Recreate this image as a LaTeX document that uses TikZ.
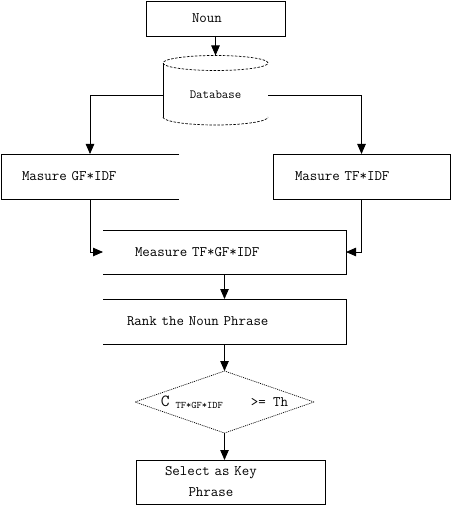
\documentclass[tikz,border=0pt]{standalone}
\usepackage{fontspec}
\usepackage{tikz}
\usetikzlibrary{arrows.meta,shapes.geometric}
\tikzset{
  flowbox/.style={align=left, inner ysep=0pt, outer sep=0pt, minimum height=45pt, font=\ttfamily\fontsize{14.5}{17}\selectfont},
  flowcheck/.style={diamond, draw, flowdot, inner sep=0pt, outer sep=0pt, shape aspect=2.9, minimum width=179pt, minimum height=62pt, font=\ttfamily\fontsize{14.5}{17}\selectfont},
  flowedge/.style={line width=0.8pt},
  flowarrow/.style={-{Triangle[length=10pt,width=8.5pt]}, line width=0.8pt},
  flowdash/.style={line width=0.7pt, dash pattern=on 2.5pt off 1.5pt},
  flowdot/.style={line width=0.7pt, dash pattern=on 1pt off 1pt}
}

\begin{document}
\begin{tikzpicture}[x=1pt, y=-1pt]
  \useasboundingbox (0,0) rectangle (451,505);
  % boxes
  \node[flowbox, draw, flowedge, minimum height=35pt, inner xsep=46pt, text width=47pt] (noun) at (215.5,18.5) {Noun};
  \node[font=\ttfamily\fontsize{12.5}{14}\selectfont, minimum width=105pt, minimum height=79pt, inner sep=0pt, outer sep=0pt] (db) at (215.5,95) {Database};
  \node[flowbox, inner xsep=21pt, text width=136pt] (gf) at (90,176.5) {Masure GF*IDF};
  \node[flowbox, draw, flowedge, inner xsep=22pt, text width=133pt] (tf) at (361.5,176.5) {Masure TF*IDF};
  \node[flowbox, minimum height=44pt, inner xsep=32pt, text width=179pt] (tgi) at (224.5,252) {Measure TF*GF*IDF};
  \node[flowbox, inner xsep=24pt, text width=195pt] (rank) at (224.5,321.5) {Rank the Noun Phrase};
  \node[flowcheck] (cmp) at (224.5,402) {{\fontsize{17}{17}\selectfont C}\hspace{6pt}\raisebox{-2pt}{\fontsize{10}{10}\selectfont TF*GF*IDF}\hspace{28pt}>= Th};
  \node[flowbox, draw, flowedge, minimum height=44pt, inner xsep=29pt, text width=131pt] (sel) at (230.5,482)
    {\def\arraystretch{1.25}\begin{tabular}{@{}c@{}}Select as Key\\Phrase\end{tabular}};
  % database drum
  \draw[flowdash] (215.5,63) ellipse [x radius=52.5pt, y radius=7.5pt];
  \draw[flowdash] (163,117) arc [start angle=180, end angle=360, x radius=52.5pt, y radius=8pt];
  \draw[flowedge] (163,63) -- (163,117);
  % open sides
  \draw[flowedge] (gf.north east) -- (gf.north west) -- (gf.south west) -- (gf.south east);
  \draw[flowedge] (tgi.north west) -- (tgi.north east) -- (tgi.south east) -- (tgi.south west);
  \draw[flowedge] (rank.north west) -- (rank.north east) -- (rank.south east) -- (rank.south west);
  % connectors
  \draw[flowarrow] (noun) -- (db.north);
  \draw[flowarrow] (db.west) -| (gf.north);
  \draw[flowarrow] (db.east) -| (tf.north);
  \draw[flowarrow] (gf.south) |- (tgi.west);
  \draw[flowarrow] (tf.south) |- (tgi.east);
  \draw[flowarrow] (tgi) -- (rank);
  \draw[flowarrow] (rank.south) -- (rank.south |- cmp.north);
  \draw[flowarrow] (cmp.south) -- (cmp.south |- sel.north);
\end{tikzpicture}
\end{document}
